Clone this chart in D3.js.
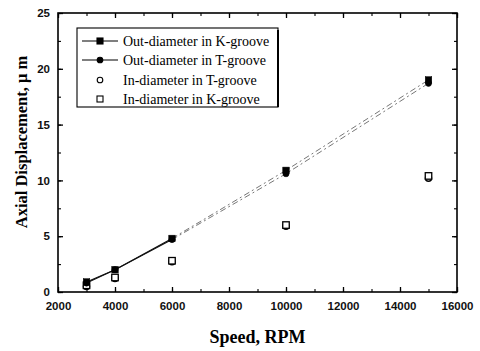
<!DOCTYPE html>
<html>
<head>
<meta charset="utf-8">
<script src="https://cdn.jsdelivr.net/npm/d3@7"></script>
<style>
  html, body { margin: 0; padding: 0; background: #fff; }
  svg { display: block; }
</style>
</head>
<body>
<svg id="chart" width="480" height="351"></svg>
<script>
// Rotational speed (RPM) at which displacement was measured
const speeds = [3000, 4000, 6000, 10000, 15000];
// Axial displacement, µm
const outK = [0.9, 2.0, 4.8, 10.9, 19.0];
const outT = [0.8, 2.0, 4.7, 10.6, 18.7];
const inT  = [0.5, 1.2, 2.7, 5.9, 10.2];
const inK  = [0.6, 1.3, 2.8, 6.0, 10.4];

const xTicks = [2000, 4000, 6000, 8000, 10000, 12000, 14000, 16000];
const yTicks = [0, 5, 10, 15, 20, 25];
const legendLabels = [
  "Out-diameter in K-groove",
  "Out-diameter in T-groove",
  "In-diameter in T-groove",
  "In-diameter in K-groove"
];

const svg = d3.select("#chart");
const L = 58, R = 457, T = 13, B = 292;

const x = d3.scaleLinear().domain([2000, 16000]).range([L, R]);
const y = d3.scaleLinear().domain([0, 25]).range([B, T]);

const tickFont = "'Liberation Sans', Arial, sans-serif";
const serif = "'Liberation Serif', 'Times New Roman', serif";

// Bottom / top / left / right axes, all with inward ticks
const minorX = d3.range(2000, 16001, 1000);
const minorY = d3.range(0, 25.01, 2.5);

function inwardAxis(axisFn, scale, ticks, minor, transform, showLabels) {
  const gMinor = svg.append("g").attr("transform", transform)
    .call(axisFn(scale).tickValues(minor).tickSize(-3).tickFormat(""));
  gMinor.select(".domain").remove();
  const g = svg.append("g").attr("transform", transform)
    .call(axisFn(scale).tickValues(ticks).tickSize(-5).tickPadding(showLabels ? 10 : 0)
      .tickFormat(showLabels ? d3.format("d") : ""));
  g.select(".domain").remove();
  g.selectAll("line").attr("stroke", "#000").attr("stroke-width", 1.3);
  gMinor.selectAll("line").attr("stroke", "#000").attr("stroke-width", 1.1);
  g.selectAll("text").attr("font-family", tickFont).attr("font-size", 11.5)
    .attr("font-weight", "bold").attr("fill", "#111");
  return g;
}

inwardAxis(d3.axisBottom, x, xTicks, minorX, `translate(0,${B})`, true);
inwardAxis(d3.axisTop, x, xTicks, minorX, `translate(0,${T})`, false);
const yl = inwardAxis(d3.axisLeft, y, yTicks, minorY, `translate(${L},0)`, true);
yl.selectAll("text").attr("dx", 2);
inwardAxis(d3.axisRight, y, yTicks, minorY, `translate(${R},0)`, false);

// Frame
svg.append("rect")
  .attr("x", L).attr("y", T).attr("width", R - L).attr("height", B - T)
  .attr("fill", "none").attr("stroke", "#000").attr("stroke-width", 1.6);

// Axis titles
svg.append("text")
  .attr("x", (L + R) / 2).attr("y", 343)
  .attr("text-anchor", "middle")
  .attr("font-family", serif).attr("font-weight", "bold").attr("font-size", 18)
  .text("Speed, RPM");

svg.append("text")
  .attr("transform", `translate(27,142) rotate(-90)`)
  .attr("text-anchor", "middle")
  .attr("font-family", serif).attr("font-weight", "bold").attr("font-size", 16.5)
  .text("Axial Displacement, \u03bc m");

// Connecting lines for the out-diameter series: solid through the low-speed
// points, fainter broken stroke toward the high-speed points
const line = d3.line().x(d => x(d[0])).y(d => y(d[1]));
[outK, outT].forEach(vals => {
  const pts = speeds.map((s, i) => [s, vals[i]]);
  svg.append("path").datum(pts.slice(0, 3))
    .attr("d", line).attr("fill", "none").attr("stroke", "#111").attr("stroke-width", 1.1);
  svg.append("path").datum(pts.slice(2))
    .attr("d", line).attr("fill", "none").attr("stroke", "#666").attr("stroke-width", 0.9)
    .attr("stroke-dasharray", "6,3,2,3");
});

// Markers
const sq = 6.5, rr = 3.1;
function squares(vals, filled) {
  svg.append("g").selectAll("rect").data(speeds).join("rect")
    .attr("x", (d) => x(d) - sq / 2)
    .attr("y", (d, i) => y(vals[i]) - sq / 2)
    .attr("width", sq).attr("height", sq)
    .attr("fill", filled ? "#000" : "#fff")
    .attr("stroke", "#000").attr("stroke-width", filled ? 0.5 : 1.3);
}
function circles(vals, filled) {
  svg.append("g").selectAll("circle").data(speeds).join("circle")
    .attr("cx", d => x(d))
    .attr("cy", (d, i) => y(vals[i]))
    .attr("r", rr)
    .attr("fill", filled ? "#000" : "#fff")
    .attr("stroke", "#000").attr("stroke-width", filled ? 0.5 : 1.3);
}
circles(inT, false);
squares(inK, false);
squares(outK, true);
circles(outT, true);

// Legend
const lg = svg.append("g");
lg.append("rect")
  .attr("x", 77).attr("y", 28).attr("width", 201).attr("height", 79)
  .attr("fill", "#fff").attr("stroke", "#000").attr("stroke-width", 1.1);
lg.append("line")
  .attr("x1", 278).attr("y1", 30).attr("x2", 278).attr("y2", 107)
  .attr("stroke", "#000").attr("stroke-width", 2);
const rowsY = [41, 60, 80, 99];
legendLabels.forEach((lab, i) => {
  const ry = rowsY[i];
  if (i < 2) {
    lg.append("line").attr("x1", 82).attr("x2", 118).attr("y1", ry).attr("y2", ry)
      .attr("stroke", "#000").attr("stroke-width", 1.1);
  }
  if (i === 0 || i === 3) {
    lg.append("rect").attr("x", 100 - 3).attr("y", ry - 3).attr("width", 6).attr("height", 6)
      .attr("fill", i === 0 ? "#000" : "#fff").attr("stroke", "#000").attr("stroke-width", 1.1);
  } else {
    lg.append("circle").attr("cx", 100).attr("cy", ry).attr("r", 2.8)
      .attr("fill", i === 1 ? "#000" : "#fff").attr("stroke", "#000").attr("stroke-width", 1.1);
  }
  lg.append("text").attr("x", 123).attr("y", ry + 4.5)
    .attr("font-family", serif).attr("font-size", 14).attr("fill", "#000")
    .text(lab);
});
</script>
</body>
</html>
